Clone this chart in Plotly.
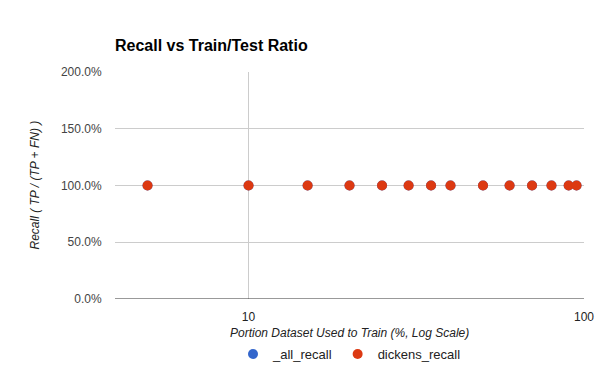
import plotly.graph_objects as go

train_pct = [5, 10, 15, 20, 25, 30, 35, 40, 50, 60, 70, 80, 90, 95]
all_recall = [1.0, 1.0, 1.0, 1.0, 1.0, 1.0, 1.0, 1.0, 1.0, 1.0, 1.0, 1.0, 1.0, 1.0]
dickens_recall = [1.0, 1.0, 1.0, 1.0, 1.0, 1.0, 1.0, 1.0, 1.0, 1.0, 1.0, 1.0, 1.0, 1.0]
y_ticks = [0, 0.5, 1.0, 1.5, 2.0]
x_ticks = [10, 100]

font = "Liberation Sans, Arial, sans-serif"

fig = go.Figure()
fig.add_trace(go.Scatter(x=train_pct, y=all_recall, mode="markers", name="_all_recall",
                         marker=dict(color="#3366cc", size=10)))
fig.add_trace(go.Scatter(x=train_pct, y=dickens_recall, mode="markers", name="dickens_recall",
                         marker=dict(color="#dc3912", size=10)))

fig.update_layout(
    width=600, height=371,
    margin=dict(l=115, r=16, t=72, b=72, autoexpand=False),
    paper_bgcolor="white", plot_bgcolor="white",
    font=dict(family=font, size=12, color="#444"),
    title=dict(text="<b>Recall vs Train/Test Ratio</b>", x=115/600, xanchor="left",
               y=1-45/371, yanchor="middle", font=dict(size=16, color="#000", family=font)),
    showlegend=True,
    legend=dict(orientation="h", x=0.5, xanchor="center", yref="container", y=1-354/371,
                yanchor="middle", font=dict(size=13, color="#222"), itemwidth=30),
    xaxis=dict(type="log", range=[0.602, 2.0], tickvals=x_ticks, ticktext=[str(v) for v in x_ticks],
               showgrid=True, gridcolor="#cccccc", zeroline=False, showline=False,
               ticks="outside", ticklen=7, tickcolor="rgba(0,0,0,0)", automargin=False,
               tickfont=dict(size=12, color="#222")),
    yaxis=dict(range=[0, 2.0], tickvals=y_ticks, tickformat=".1%",
               showgrid=True, gridcolor="#cccccc", zeroline=False, showline=False,
               ticks="outside", ticklen=10, tickcolor="rgba(0,0,0,0)", automargin=False,
               tickfont=dict(size=12, color="#444")),
    shapes=[dict(type="line", xref="paper", yref="y", x0=0, x1=1, y0=0, y1=0,
                 line=dict(color="#333", width=1))],
    annotations=[
        dict(text="<i>Portion Dataset Used to Train (%, Log Scale)</i>", xref="paper", yref="paper",
             x=0.5, y=-(333-299)/227, xanchor="center", yanchor="middle", showarrow=False,
             font=dict(size=12, color="#222")),
        dict(text="<i>Recall ( TP / (TP + FN) )</i>", xref="paper", yref="paper",
             x=-(115-34)/469, y=0.5, xanchor="center", yanchor="middle", textangle=-90,
             showarrow=False, font=dict(size=12, color="#222")),
    ],
)

fig.write_html("out.html")
